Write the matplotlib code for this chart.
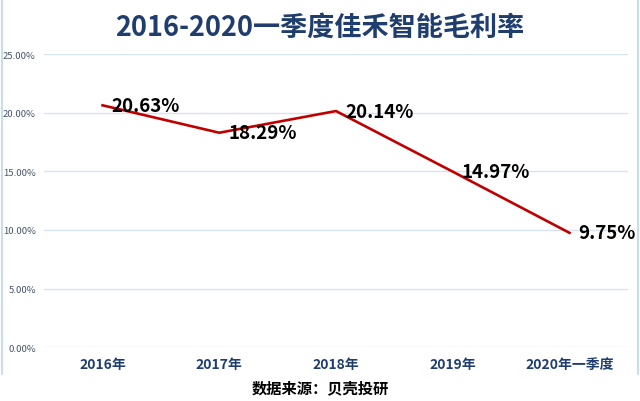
import matplotlib.pyplot as plt
from matplotlib.lines import Line2D
from matplotlib.ticker import FuncFormatter

plt.rcParams['font.family'] = ['Noto Sans CJK SC', 'DejaVu Sans']

# data
categories = ['2016年', '2017年', '2018年', '2019年', '2020年一季度']
margin = [20.63, 18.29, 20.14, 14.97, 9.75]
labels = ['20.63%', '18.29%', '20.14%', '14.97%', '9.75%']

fig = plt.figure(figsize=(6.4, 4.02), dpi=100)
ax = fig.add_axes([0.069, 0.134, 0.912, 0.729])

x = list(range(len(categories)))
ax.plot(x, margin, color='#C00000', lw=1.9, zorder=3)

# data labels to the right of each point
for xi, yi, lab in zip(x, margin, labels):
    ax.annotate(lab, (xi, yi), xytext=(6.5, 0), textcoords='offset points',
                ha='left', va='center', fontsize=13.5, fontweight='bold',
                color='black', zorder=4)

ax.set_xlim(-0.5, len(categories) - 0.5)
ax.set_ylim(0, 25)
ax.set_yticks([0, 5, 10, 15, 20, 25])
ax.yaxis.set_major_formatter(FuncFormatter(lambda v, p: '%.2f%%' % v))
ax.set_xticks(x)
ax.set_xticklabels(categories, fontsize=10, fontweight='bold', color='#1F3E6E')
ax.tick_params(axis='y', labelsize=6.8, colors='#44546A', length=0, pad=6)
ax.tick_params(axis='x', length=0, pad=7)
ax.grid(axis='y', color='#D9E2F0', lw=1)
ax.set_axisbelow(True)
for s in ax.spines.values():
    s.set_visible(False)

# title and source
fig.text(0.5, 0.93, '2016-2020一季度佳禾智能毛利率', ha='center', va='center',
         fontsize=19.5, fontweight='bold', color='#1F3E6E')
fig.text(0.5, 0.035, '数据来源：贝壳投研', ha='center', va='center',
         fontsize=11, fontweight='bold', color='black')

# light chart frame
fb = 1 - 375 / 402
for xs in (0.003, 0.997):
    fig.add_artist(Line2D([xs, xs], [1, fb], color='#BDD7EE', lw=1.2,
                          transform=fig.transFigure))

fig.savefig('out.png', dpi=100, facecolor='white')
